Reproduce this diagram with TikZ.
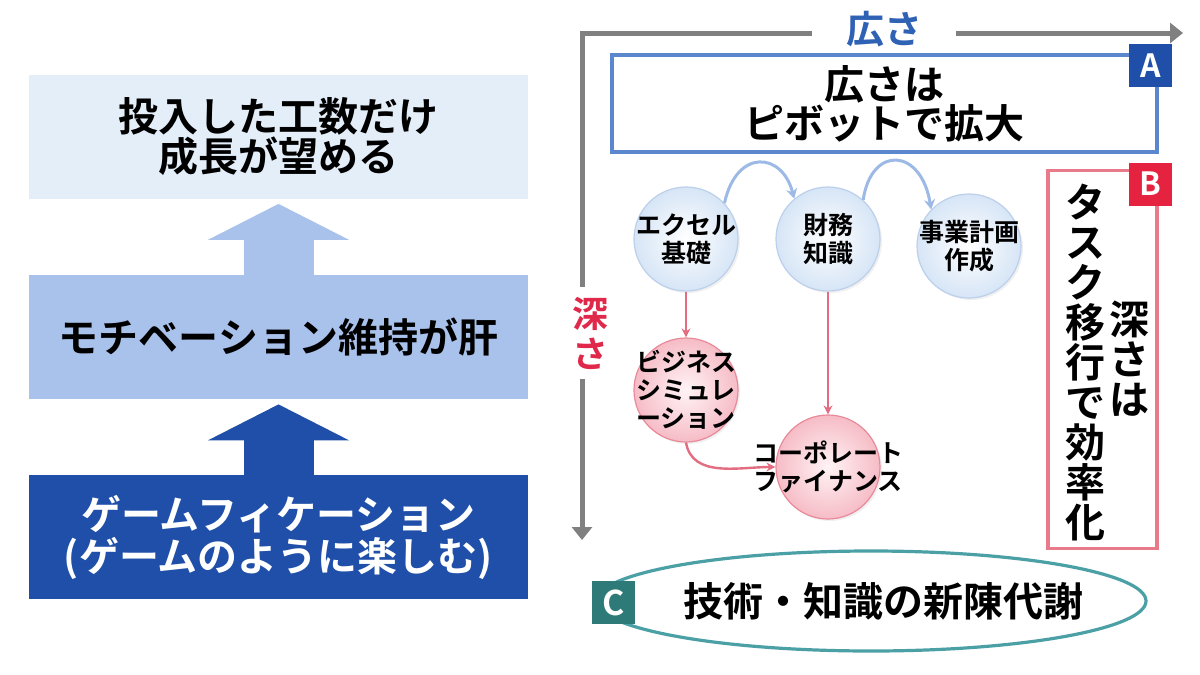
\documentclass[tikz,border=0pt]{standalone}
\usepackage{fontspec}
\setmainfont{Noto Sans CJK JP}[BoldFont={* Bold}]
\usetikzlibrary{arrows.meta,shapes.geometric,shadows}

\definecolor{paleBlue}{HTML}{E4EEF8}
\definecolor{midBlue}{HTML}{A9C2EC}
\definecolor{deepBlue}{HTML}{1F4FA8}
\definecolor{axisGray}{HTML}{808080}
\definecolor{wideBlue}{HTML}{2F62B4}
\definecolor{deepRed}{HTML}{E0284A}
\definecolor{boxAline}{HTML}{5B87CF}
\definecolor{boxBline}{HTML}{E87A8C}
\definecolor{tagB}{HTML}{E5223F}
\definecolor{tagC}{HTML}{2E7A78}
\definecolor{ringC}{HTML}{4BA0A6}
\definecolor{linkBlue}{HTML}{9DB9E6}
\definecolor{linkPink}{HTML}{E36C80}
\definecolor{skillEdge}{HTML}{BCD0EC}
\definecolor{skillFill}{HTML}{D6E5F6}
\definecolor{deepEdge}{HTML}{E88A99}
\definecolor{deepFill}{HTML}{F6BCC6}
\definecolor{deepCore}{HTML}{FFF3F5}

\tikzset{
	layer/.style={rectangle, minimum width=249.5pt, minimum height=62pt, inner sep=0pt,
		align=center, font=\bfseries\fontsize{20}{19}\selectfont},
	uparrow/.style={line width=35pt, -{Triangle[length=18pt,width=70pt]}, shorten >=2.5pt},
	skill/.style={circle, minimum size=52pt, inner sep=0pt, draw=skillEdge, line width=0.6pt,
		inner color=white, outer color=skillFill,
		drop shadow={opacity=0.12, shadow xshift=1pt, shadow yshift=-1pt}},
	deep/.style={skill, draw=deepEdge, inner color=deepCore, outer color=deepFill},
	skilltext/.style={align=center, inner sep=0pt, font=\bfseries\fontsize{12.5}{14}\selectfont},
	tag/.style={rectangle, minimum size=21.5pt, inner sep=0pt, text=white,
		font=\bfseries\fontsize{16}{16}\selectfont},
	blueLink/.style={draw=linkBlue, line width=1.5pt, -{Stealth[length=5pt,width=5.5pt]}},
	pinkLink/.style={draw=linkPink, line width=1.2pt, -{Stealth[length=4.5pt,width=4.5pt]}},
	axis/.style={draw=axisGray, line width=2.5pt, line join=miter,
		{Triangle[length=6.5pt,width=10pt]}-{Triangle[length=6.5pt,width=10pt]}},
	vtext/.style={align=center, inner sep=0pt, font=\bfseries\fontsize{20}{20}\selectfont},
}

\begin{document}
\begin{tikzpicture}[x=0.5pt, y=-0.5pt]
	\useasboundingbox (0,0) rectangle (1200,675);
	
	% 左側
	\node[layer, fill=paleBlue] (gain) at (278.5,136.5) {投入した工数だけ\\成長が望める};
	\node[layer, fill=midBlue] (motive) at (278.5,337) {モチベーション維持が肝};
	\node[layer, fill=deepBlue, text=white, font=\bfseries\fontsize{20}{21}\selectfont]
		(game) at (278.5,537) {ゲームフィケーション\\(ゲームのように楽しむ)};
	
	\draw[uparrow, midBlue] (motive.north) -- (gain.south);
	\draw[uparrow, deepBlue] (game.north) -- (motive.south);
	
	% 軸
	\coordinate (origin) at (582,33);
	\coordinate (wideEnd) at (1183,33);
	\coordinate (deepEnd) at (582,540);
	\draw[axis] (deepEnd) -- (origin) -- (wideEnd);
	\node[fill=white, text=wideBlue, inner xsep=17pt, inner ysep=1pt,
		font=\bfseries\fontsize{19}{19}\selectfont] (wideLbl) at (884,29) {広さ};
	\node[fill=white, text=deepRed, align=center, inner xsep=2pt, inner ysep=5pt,
		font=\bfseries\fontsize{18}{20}\selectfont] (deepLbl) at (590,333) {深\\さ};
	
	% A
	\node[rectangle, draw=boxAline, line width=1.6pt, minimum width=272.5pt, minimum height=48.5pt,
		align=center, font=\bfseries\fontsize{20}{19.5}\selectfont] (boxA) at (884.5,103.5)
		{広さは\\ピボットで拡大};
	\node[tag, fill=deepBlue] (tagA) at (1150.5,65.5) {A};
	
	% B
	\node[rectangle, draw=boxBline, line width=1.6pt, minimum width=54.5pt, minimum height=189pt]
		(boxB) at (1102.5,359.5) {};
	\node[tag, fill=tagB] (tagB) at (1150.5,184) {B};
	\node[vtext] (taskCol) at (1085,363) {タ\\ス\\ク\\移\\行\\で\\効\\率\\化};
	\node[vtext] (depthCol) at (1129,359) {深\\さ\\は};
	
	% スキル
	\node[skill, label={[skilltext]center:エクセル\\基礎}] (excel) at (686,239) {};
	\node[skill, label={[skilltext]center:財務\\知識}] (zaimu) at (828,239) {};
	\node[skill, label={[skilltext]center:事業計画\\作成}] (plan) at (969,246) {};
	\node[deep, label={[skilltext]center:ビジネス\\シミュレ\\ーション}] (sim) at (686,390) {};
	\node[deep, label={[skilltext]center:コーポレート\\ファイナンス}] (corp) at (828,467) {};
	
	\draw[blueLink] (excel.43) .. controls +(12,-55) and +(-12,-47) .. (zaimu.130);
	\draw[blueLink] (zaimu.48) .. controls +(8,-55) and +(-10,-62) .. (plan.136);
	\draw[pinkLink] (excel.south) -- (sim.north);
	\draw[pinkLink] (zaimu.south) -- (corp.north);
	\draw[pinkLink] (sim.south) to[out=-80, in=180] (corp.west);
	
	% C
	\node[ellipse, draw=ringC, line width=1.6pt, minimum width=275pt, minimum height=50pt,
		inner sep=0pt] (renew) at (871,601) {};
	\node[font=\bfseries\fontsize{20}{20}\selectfont, inner sep=0pt] (renewTxt)
		at ([xshift=6pt]renew.center) {技術・知識の新陳代謝};
	\node[tag, fill=tagC, font=\bfseries\fontsize{17}{17}\selectfont] (tagC) at (613.5,602.5) {C};
\end{tikzpicture}
\end{document}
